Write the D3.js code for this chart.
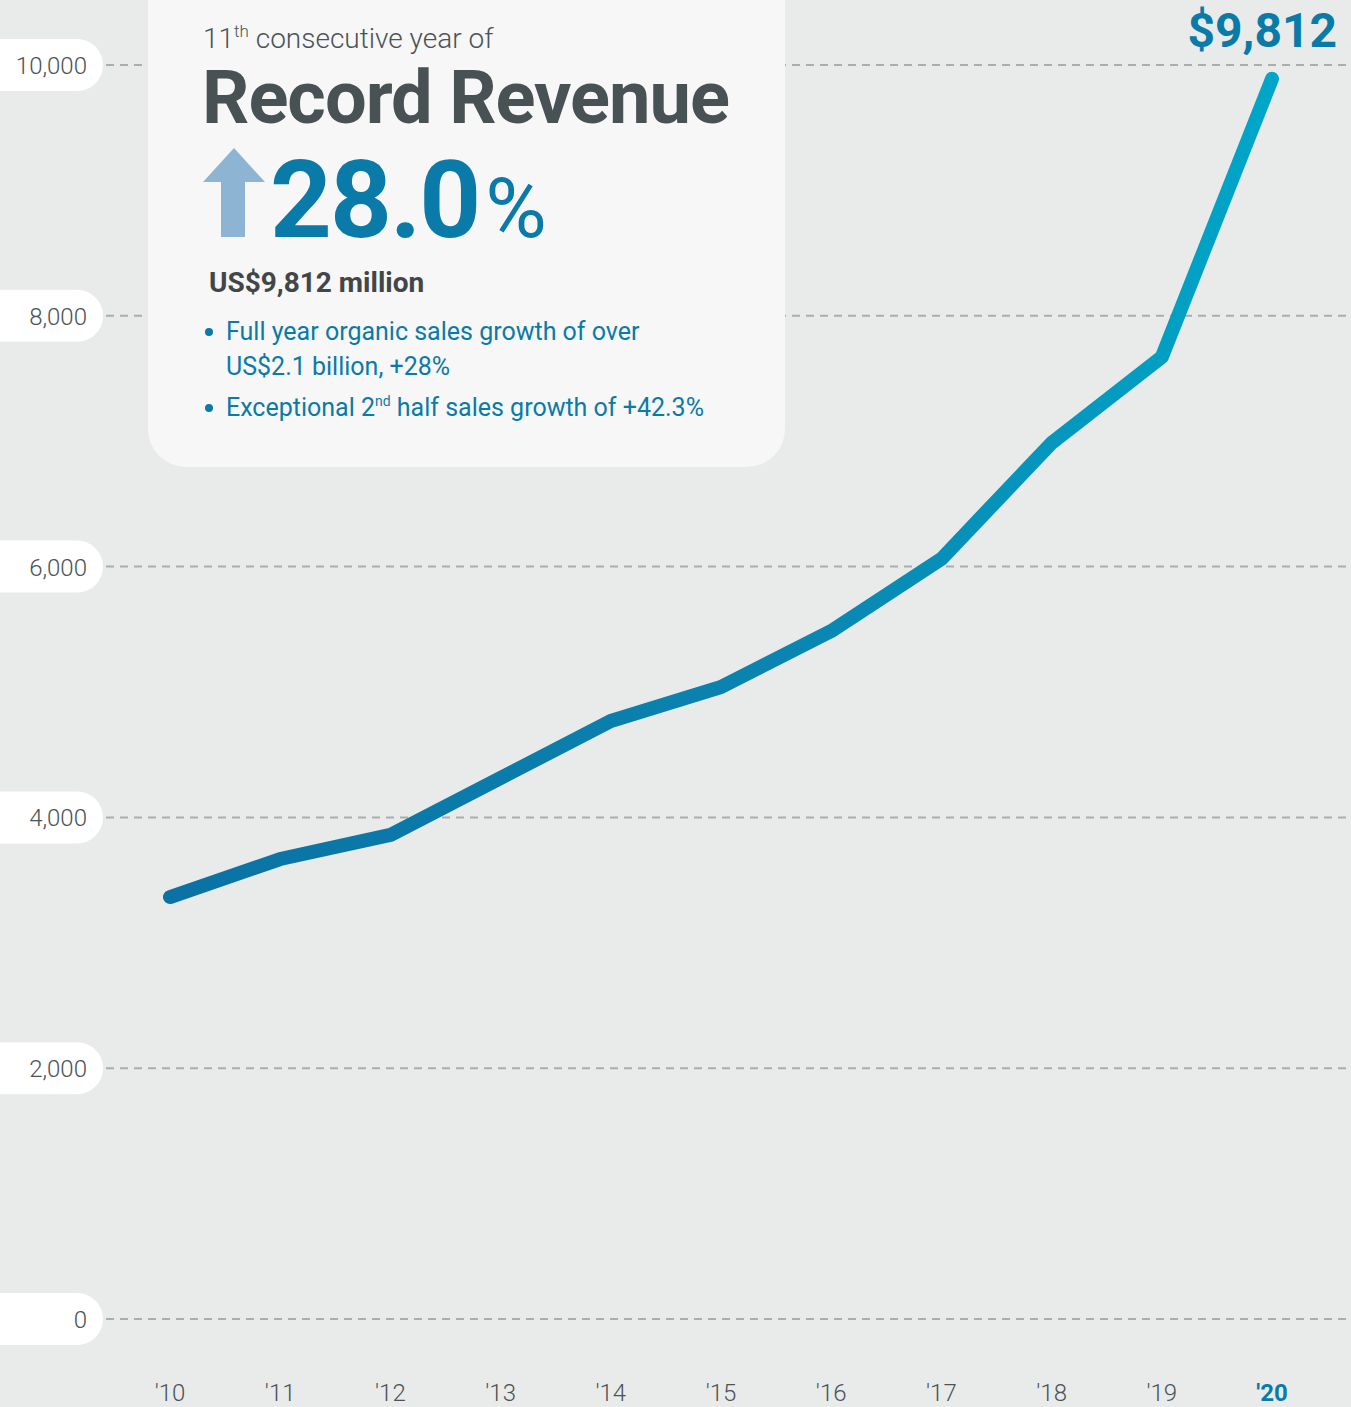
<!DOCTYPE html>
<html>
<head>
<meta charset="utf-8">
<script src="https://cdn.jsdelivr.net/npm/d3@7"></script>
<style>
  body { margin: 0; background: #e9ebea; }
  svg { display: block; }
  text { font-family: "Liberation Sans Narrow", "Roboto", sans-serif; }
</style>
</head>
<body>
<div class="chart"></div>
<script>
// revenue, US$ million, fiscal '10 - '20
const years = ['10', '11', '12', '13', '14', '15', '16', '17', '18', '19', '20']
const revenue = [3365, 3668, 3860, 4314, 4769, 5040, 5486, 6061, 6986, 7671, 9890]
const yTicks = [0, 2000, 4000, 6000, 8000, 10000]
const bullets = [
  ['Full year organic sales growth of over', 'US$2.1 billion, +28%'],
  ['Exceptional 2|nd| half sales growth of +42.3%']
]

const W = 1351, H = 1407

const svg = d3.select('.chart')
  .append('svg')
    .attr('width', W)
    .attr('height', H)

svg.append('rect')
  .attr('width', W)
  .attr('height', H)
  .style('fill', '#e9ebea')

const x = d3.scalePoint()
  .domain(years)
  .range([170, 1272])

const y = d3.scaleLinear()
  .domain([0, 10000])
  .range([1319, 65])

const fmt = d3.format(',')

// gridlines
svg.append('g').selectAll('line')
  .data(yTicks)
  .join('line')
    .attr('x1', 106)
    .attr('x2', W)
    .attr('y1', d => y(d))
    .attr('y2', d => y(d))
    .style('stroke', '#a9aeac')
    .style('stroke-width', 2)
    .style('stroke-dasharray', '8,6')

// y labels in white pills
const yl = svg.append('g').selectAll('g')
  .data(yTicks)
  .join('g')
    .attr('transform', d => `translate(0, ${y(d)})`)
yl.append('rect')
  .attr('x', -30)
  .attr('y', -26)
  .attr('width', 133)
  .attr('height', 52)
  .attr('rx', 26)
  .style('fill', '#fff')
yl.append('text')
  .attr('x', 87)
  .attr('y', 9)
  .attr('text-anchor', 'end')
  .style('font-family', 'Roboto, sans-serif')
  .style('font-weight', 300)
  .style('font-size', '24px')
  .style('fill', '#4a5356')
  .text(d => fmt(d))

// x labels
svg.append('g').selectAll('text')
  .data(years)
  .join('text')
    .attr('x', d => x(d))
    .attr('y', 1401)
    .attr('text-anchor', 'middle')
    .style('font-family', 'Roboto, sans-serif')
    .style('font-weight', (d, i) => i === years.length - 1 ? 700 : 300)
    .style('font-size', '24px')
    .style('fill', (d, i) => i === years.length - 1 ? '#0a7aa8' : '#4a5356')
    .text(d => "'" + d)

// info box
const box = svg.append('g')
box.append('rect')
  .attr('x', 148)
  .attr('y', -40)
  .attr('width', 637)
  .attr('height', 507)
  .attr('rx', 38)
  .style('fill', '#f7f7f7')

const sub = box.append('text')
  .attr('x', 203)
  .attr('y', 48)
  .style('font-family', 'Roboto, sans-serif')
  .style('font-weight', 300)
  .style('font-size', '28px')
  .style('fill', '#4a5356')
sub.append('tspan').text('11')
sub.append('tspan').attr('dy', -11).style('font-size', '17px').text('th')
sub.append('tspan').attr('dy', 11).text(' consecutive year of')

box.append('text')
  .attr('x', 202)
  .attr('y', 123)
  .style('font-family', 'Roboto, sans-serif')
  .style('font-weight', 700)
  .style('font-size', '74px')
  .style('letter-spacing', '-1px')
  .style('fill', '#485154')
  .text('Record Revenue')

// up arrow
box.append('path')
  .attr('d', 'M203,182 L234,148 L265,182 L245,182 L245,237 L221,237 L221,182 Z')
  .style('fill', '#8db5d3')

const pct = box.append('text')
  .attr('x', 270)
  .attr('y', 237)
  .style('font-family', 'Roboto, sans-serif')
  .style('font-weight', 700)
  .style('font-size', '108px')
  .style('letter-spacing', '-2px')
  .style('fill', '#0a7aa8')
pct.append('tspan').text('28.0')
pct.append('tspan').attr('dx', 6).style('font-size', '84px').style('font-weight', 400).text('%')

box.append('text')
  .attr('x', 209)
  .attr('y', 292)
  .style('font-family', 'Roboto, sans-serif')
  .style('font-weight', 700)
  .style('font-size', '28px')
  .style('fill', '#414648')
  .text('US$9,812 million')

// bullet list
let by = 340
bullets.forEach(lines => {
  box.append('circle')
    .attr('cx', 209)
    .attr('cy', by - 8)
    .attr('r', 4)
    .style('fill', '#0a7aa8')
  lines.forEach(l => {
    const t = box.append('text')
      .attr('x', 226)
      .attr('y', by)
      .style('font-size', '25px')
      .style('fill', '#0a7aa8')
    const parts = l.split('|')
    parts.forEach((p, i) => {
      if (i % 2 === 1) {
        t.append('tspan').attr('dy', -10).style('font-size', '14px').text(p)
      } else {
        t.append('tspan').attr('dy', i ? 10 : 0).text(p)
      }
    })
    by += 35
  })
  by += 6
})

// line gradient
const defs = svg.append('defs')
const grad = defs.append('linearGradient')
  .attr('id', 'lineGrad')
  .attr('gradientUnits', 'userSpaceOnUse')
  .attr('x1', x(years[0]))
  .attr('x2', x(years[years.length - 1]))
  .attr('y1', 0)
  .attr('y2', 0)
grad.append('stop').attr('offset', '0%').attr('stop-color', '#0a72a4')
grad.append('stop').attr('offset', '55%').attr('stop-color', '#0a84b0')
grad.append('stop').attr('offset', '100%').attr('stop-color', '#00a6c8')

const line = d3.line()
  .x((d, i) => x(years[i]))
  .y(d => y(d))

svg.append('path')
  .datum(revenue)
  .attr('d', line)
  .style('fill', 'none')
  .style('stroke', 'url(#lineGrad)')
  .style('stroke-width', 14)
  .style('stroke-linecap', 'round')
  .style('stroke-linejoin', 'round')

// end label
svg.append('text')
  .attr('x', 1337)
  .attr('y', 47)
  .attr('text-anchor', 'end')
  .style('font-family', 'Roboto, sans-serif')
  .style('font-weight', 700)
  .style('font-size', '48px')
  .style('fill', '#0a7aa8')
  .text('$' + fmt(9812))
</script>
</body>
</html>
